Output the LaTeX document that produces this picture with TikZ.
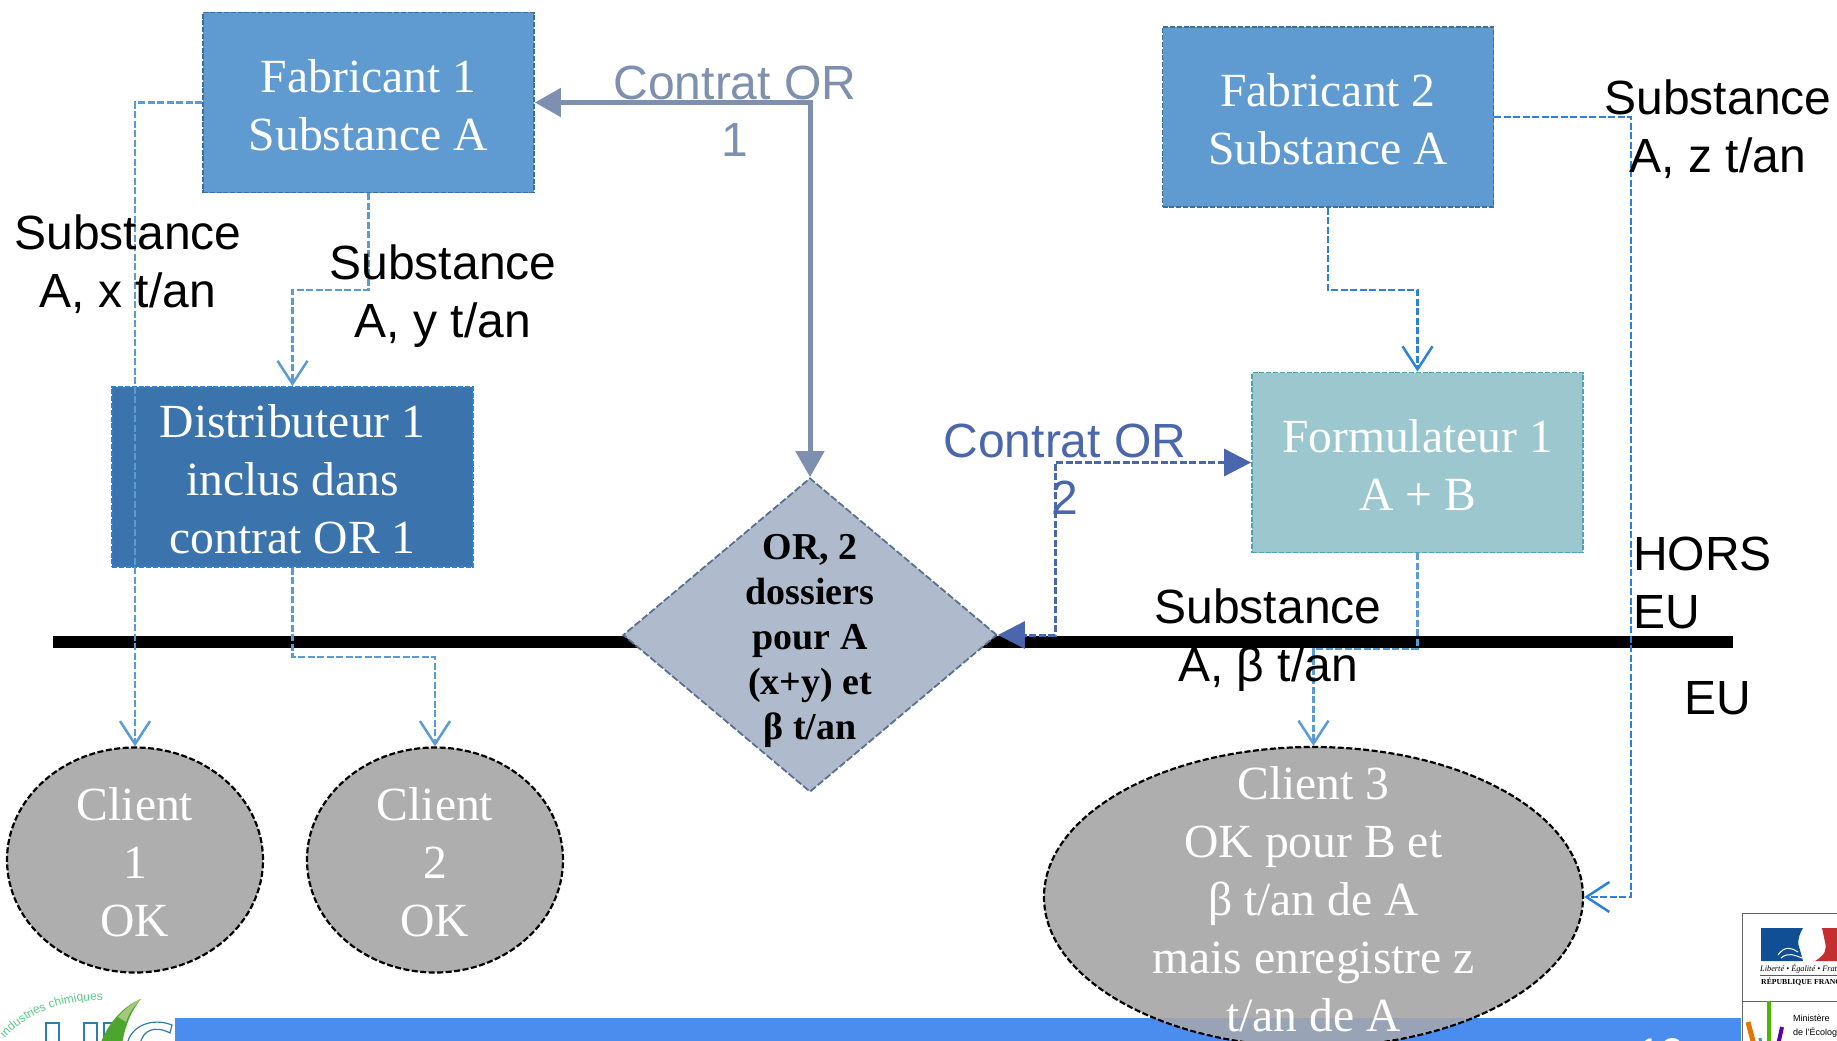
\documentclass[tikz,border=0pt]{standalone}
\usepackage{fontspec}
\setmainfont{Liberation Serif}
\setsansfont{Liberation Sans}
\usetikzlibrary{shapes.geometric,arrows.meta,decorations.text,calc}
\definecolor{fabfill}{HTML}{5F9BD1}
\definecolor{fabline}{HTML}{3B6FA0}
\definecolor{distfill}{HTML}{3B73AD}
\definecolor{brightblue}{HTML}{2C82D9}
\definecolor{softblue}{HTML}{5B9BD5}
\definecolor{formfill}{HTML}{9CC7CE}
\definecolor{formline}{HTML}{4FA3B0}
\definecolor{diafill}{HTML}{AFBBCC}
\definecolor{dialine}{HTML}{5A7090}
\definecolor{ellfill}{HTML}{AEAEAE}
\definecolor{bandblue}{HTML}{4B8DEF}
\definecolor{bandmix}{HTML}{98A3B5}
\definecolor{orone}{HTML}{7F8FAF}
\definecolor{ortwo}{HTML}{4A66AC}
\definecolor{uicblue}{HTML}{2E7EA8}
\definecolor{uicgreen}{HTML}{5DC98A}
\definecolor{leafdark}{HTML}{4CA62E}
\definecolor{leaflight}{HTML}{A4C77C}
\definecolor{flagblue}{HTML}{114F94}
\definecolor{flagred}{HTML}{C42E30}
\newcommand{\bigser}{\fontsize{47.6}{58}\selectfont\rmfamily}
\newcommand{\bigsan}{\fontsize{48}{57.5}\selectfont\sffamily}
\newcommand{\tops}{\rule{0pt}{38pt}}
\tikzset{
  boxbase/.style={rectangle,inner sep=0pt,minimum width=331pt,minimum height=180pt,text=white,font=\bigser,align=center,line width=1.8pt,dash pattern=on 5pt off 1.8pt},
  fabbox/.style={boxbase,fill=fabfill,draw=fabline},
  distbox/.style={boxbase,fill=distfill,draw=brightblue,minimum width=361pt},
  formbox/.style={boxbase,fill=formfill,draw=formline},
  orbox/.style={diamond,aspect=1.19,inner sep=0pt,minimum width=374pt,minimum height=314pt,fill=diafill,draw=dialine,line width=1.8pt,dash pattern=on 7pt off 2.5pt},
  ortext/.style={align=center,inner sep=0pt,font=\fontsize{38}{45}\selectfont\rmfamily\bfseries},
  clientell/.style={ellipse,inner sep=0pt,fill=ellfill,draw=black,line width=2.2pt,dash pattern=on 6pt off 2.5pt,text=white,font=\bigser,align=center},
  lab/.style={font=\bigsan,align=center,inner sep=0pt},
  flow/.style={line width=2.7pt,dash pattern=on 7pt off 2.5pt,-{Straight Barb[length=23pt,width=30pt,line width=2.5pt]}},
  softflow/.style={flow,draw=softblue},
  brightflow/.style={flow,draw=brightblue},
  contractone/.style={draw=orone,line width=5pt,{Triangle[length=26pt,width=28pt]}-{Triangle[length=26pt,width=28pt]}},
  contracttwo/.style={draw=ortwo,line width=3pt,dash pattern=on 7pt off 2.5pt,{Triangle[length=27pt,width=27pt]}-{Triangle[length=27pt,width=27pt]}},
}
\begin{document}
\begin{tikzpicture}[x=1pt,y=-1pt]
\useasboundingbox (0,0) rectangle (1837,1041);
\clip (0,0) rectangle (1837,1041);
\fill[white] (0,0) rectangle (1837,1041);
% bottom band
\fill[bandblue] (175,1018) rectangle (1741,1041);
\node[text=white,font=\fontsize{40}{48}\selectfont\sffamily,anchor=base,inner sep=0pt] (pageno) at (1661,1066) {13};
% frontier line
\coordinate (lineL) at (53,642);
\coordinate (lineR) at (1733,642);
\draw[black,line width=12pt] (lineL) -- (lineR);
% nodes
\node[fabbox] (fab1) at (368.5,102.5) {\tops Fabricant 1\\Substance A};
\node[fabbox] (fab2) at (1328,117) {\tops Fabricant 2\\Substance A};
\node[distbox] (dist) at (292.5,477) {\tops Distributeur 1\\inclus dans\\contrat OR 1};
\node[formbox] (form) at (1417.5,462.5) {\tops Formulateur 1\\A + B};
\node[orbox] (dia) at (810,635) {};
\node[ortext] (diatext) at (810,641) {OR, 2\\dossiers\\pour A\\(x+y) et\\β t/an};
\node[clientell,minimum width=256pt,minimum height=225pt] (c1) at (135,860) {\tops Client\\1\\OK};
\node[clientell,minimum width=256pt,minimum height=225pt] (c2) at (435,860) {\tops Client\\2\\OK};
\node[clientell,minimum width=539pt,minimum height=300pt] (c3) at (1313.5,897) {};
% band seen through client 3
\begin{scope}
\clip (1313.5,897) ellipse [x radius=268pt,y radius=148.5pt];
\fill[bandmix] (1000,1018) rectangle (1600,1041);
\end{scope}
\node[text=white,font=\bigser,align=center,inner sep=0pt] (c3text) at (1313.5,899) {Client 3\\OK pour B et\\β t/an de A\\mais enregistre z\\t/an de A};
% connectors
\draw[softflow] (fab1.west) -| (c1.north);
\coordinate (k1) at (368.5,290);
\coordinate (k2) at (292.5,290);
\draw[softflow] (fab1.south) -- (k1) -- (k2) -- (dist.north);
\coordinate (k3) at (292.5,657);
\coordinate (k4) at (435,657);
\draw[softflow] (dist.south) -- (k3) -- (k4) -- (c2.north);
\coordinate (k5) at (1328,290);
\coordinate (k6) at (1417.5,290);
\draw[brightflow] (fab2.south) -- (k5) -- (k6) -- (form.north);
\coordinate (k7) at (1417.5,649);
\coordinate (k8) at (1313.5,649);
\draw[softflow] (form.south) -- (k7) -- (k8) -- (c3.north);
\coordinate (k9) at (1631,117);
\coordinate (k10) at (1631,897);
\draw[brightflow] (fab2.east) -- (k9) -- (k10) -- (c3.east);
\coordinate (k11) at (810,102.5);
\draw[contractone] (fab1.east) -- (k11) -- (dia.north);
\coordinate (k12) at (1055,462.5);
\coordinate (k13) at (1055,635);
\draw[contracttwo] (form.west) -- (k12) -- (k13) -- (dia.east);
% labels
\node[lab] (lx) at (128,264) {Substance\\A, x t/an};
\node[lab] (ly) at (443,296) {Substance\\A, y t/an};
\node[lab,text=orone] (lor1) at (735,111) {Contrat OR\\1};
\node[lab,text=ortwo] (lor2) at (1065,469) {Contrat OR\\2};
\node[lab] (lb) at (1268,640) {Substance\\A, β t/an};
\node[lab] (lz) at (1718,129) {Substance\\A, z t/an};
\node[lab,anchor=west,align=left] (lhors) at (1633,583) {HORS\\EU};
\node[lab] (leu) at (1718,698) {EU};
% UIC logo
\path[decorate,decoration={text along path,text={|\fontsize{12}{14}\selectfont\sffamily\color{uicgreen}|industries chimiques},raise=0pt,text align={right}}]
  (-4,1050) .. controls (18,1016) and (58,1000) .. (103,1000);
\begin{scope}[draw=uicblue,line width=1.2pt,fill=white]
\filldraw (46,1023) rectangle (59,1050);
\filldraw (84,1023) rectangle (97,1050);
\filldraw (104,1023) rectangle (118,1050);
\filldraw (127,1045) .. controls (130,1026) and (152,1017) .. (172,1025) -- (170,1033) .. controls (155,1025) and (142,1030) .. (140,1045) -- cycle;
\end{scope}
\fill[leafdark] (141,999) .. controls (125,1005) and (108,1022) .. (100,1045) -- (122,1045) .. controls (124,1030) and (130,1012) .. (141,999) -- cycle;
\fill[leaflight] (141,999) .. controls (132,1003) and (125,1009) .. (118,1017) -- (126,1022) .. controls (129,1013) and (134,1006) .. (141,999) -- cycle;
% Ministry block
\draw[gray!80!black,line width=1pt,fill=white] (1838,913) -- (1742.5,913) -- (1742.5,1045) -- (1838,1045);
\draw[gray!80!black,line width=1pt] (1742.5,1001) -- (1838,1001);
\fill[flagblue] (1761,928) -- (1803,928) .. controls (1798,936) and (1797,944) .. (1800,950) -- (1803,961) -- (1761,961) -- cycle;
\fill[flagred] (1822,928) -- (1837,928) -- (1837,961) -- (1815,961) .. controls (1825,955) and (1827,950) .. (1825,942) -- cycle;
\draw[white,line width=1pt] (1778,955) .. controls (1785,945) and (1792,948) .. (1798,952);
\draw[white,line width=1pt] (1781,958) .. controls (1788,952) and (1794,955) .. (1802,958);
\node[anchor=base west,inner sep=0pt,font=\fontsize{8.3}{9}\selectfont\rmfamily\itshape] (liberte) at (1760,971) {Liberté • Égalité • Fraternité};
\draw[gray!70!black,line width=.6pt] (1760,975) -- (1837,975);
\node[anchor=base west,inner sep=0pt,font=\fontsize{7.7}{9}\selectfont\rmfamily\bfseries] (repub) at (1761,984) {RÉPUBLIQUE FRANÇAISE};
\node[anchor=base west,inner sep=0pt,font=\fontsize{9}{10}\selectfont\sffamily] (minis) at (1793,1021) {Ministère};
\node[anchor=base west,inner sep=0pt,font=\fontsize{9}{10}\selectfont\sffamily] (ecolo) at (1793,1035) {de l'Écologie};
\draw[green!60!black!70!yellow,line width=4pt] (1769,1001) -- (1769,1045);
\draw[orange!90!black,line width=5pt] (1748,1022) -- (1754,1045);
\draw[violet!70!blue,line width=4pt] (1782,1027) -- (1778,1045);
\draw[cyan!60!teal,line width=3pt] (1760,1038) -- (1761,1045);
\end{tikzpicture}
\end{document}
